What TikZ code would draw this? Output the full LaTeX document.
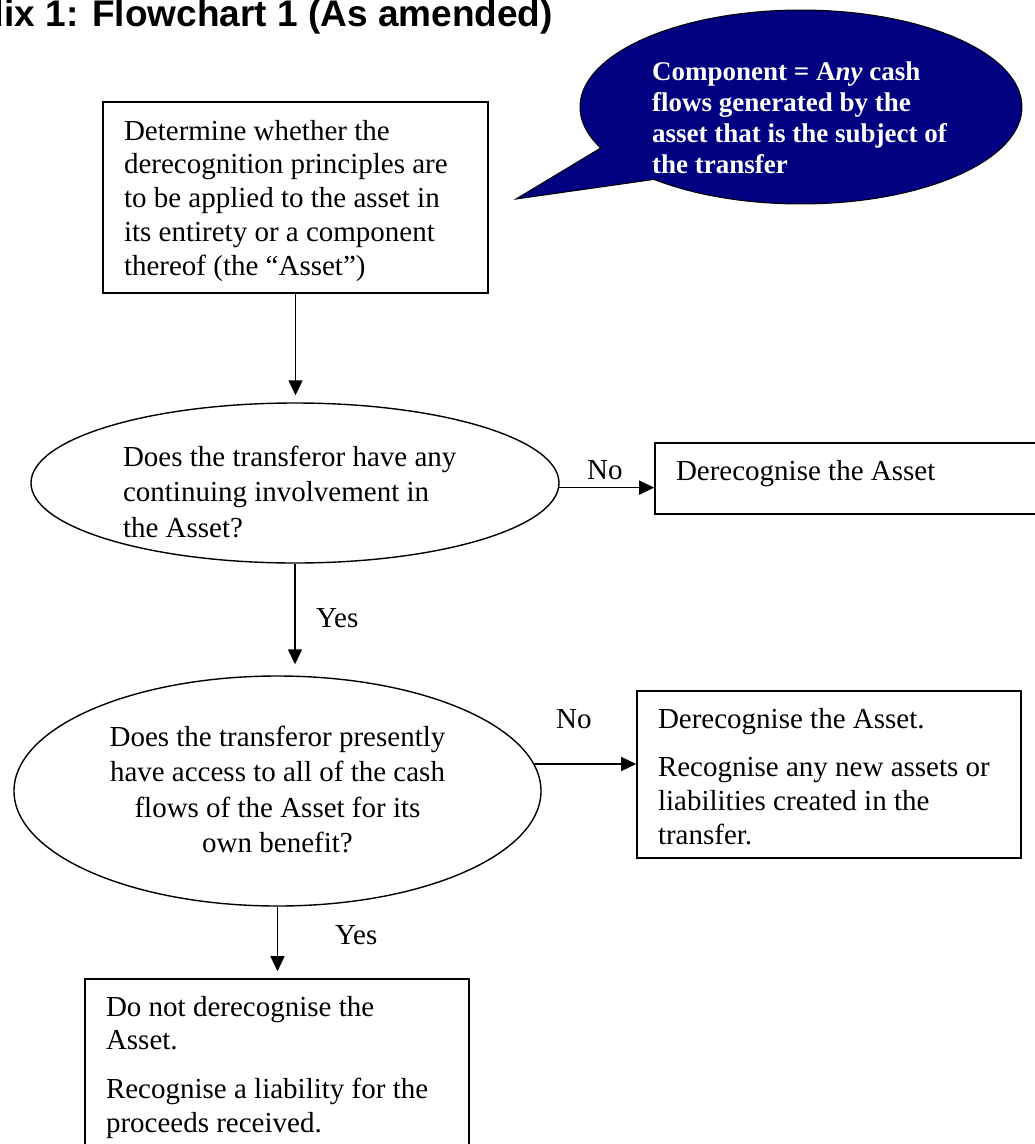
\documentclass[tikz,border=0pt]{standalone}
\usepackage{fontspec}
\setmainfont{Liberation Serif}
\setsansfont{Liberation Sans}
\usetikzlibrary{shapes.geometric,arrows.meta}
\definecolor{navy}{RGB}{0,0,128}
\newcommand\bodyfont{\fontsize{29}{33.75}\selectfont}
\newcommand\ellfont{\fontsize{29}{35.5}\selectfont}
\newcommand\tx[4]{\smash{\raisebox{#1}{\parbox[t]{#2}{#3#4}}}}
\begin{document}
\begin{tikzpicture}[x=1pt,y=-1pt,
  box/.style={draw, line width=1.6pt, rectangle, inner sep=0pt, font=\bodyfont},
  oval/.style={draw, line width=1.4pt, ellipse, inner sep=0pt, font=\ellfont},
  arr/.style={line width=1.4pt, -{Triangle[length=15pt,width=14pt]}},
  lbl/.style={font=\bodyfont, inner sep=0pt, anchor=base west},
  callout/.style={draw=black, line width=1pt, fill=navy},
]
\useasboundingbox (0,0) rectangle (1035,1144);
\clip (0,0) rectangle (1035,1144);
\fill[white] (0,0) rectangle (1035,1144);

% title (cut off at the top)
\node[font=\sffamily\bfseries\fontsize{37}{40}\selectfont, anchor=base east, inner sep=0pt] (title) at (553,26) {Appendix 1: Flowchart 1 (As amended)};

% callout
\coordinate (cc) at (801,107);
\coordinate (tip) at (516,199);
\draw[callout] ([shift={(228.3:221pt and 97pt)}]cc) arc[start angle=228.3, end angle=565, x radius=221pt, y radius=97pt] -- (tip) -- cycle;
\node[anchor=base west, inner sep=0pt, text=white, font=\bfseries\fontsize{27}{31}\selectfont] (calltext) at (652,80)
  {\parbox[t]{340pt}{\raggedright Component = A\textit{ny} cash\\ flows generated by the\\ asset that is the subject of\\ the transfer}};

% boxes
\node[box, minimum width=385pt, minimum height=191pt] (b1) at (295.5,197.5)
  {\tx{57.5pt}{343pt}{\raggedright}{Determine whether the\\ derecognition principles are\\ to be applied to the asset in\\ its entirety or a component\\ thereof (the “Asset”)}};
\node[box, minimum width=385pt, minimum height=71pt] (b2) at (847.5,478.5)
  {\tx{-1.5pt}{343pt}{\raggedright}{Derecognise the Asset}};
\node[box, minimum width=384pt, minimum height=167pt] (b3) at (829,774.5)
  {\tx{46.5pt}{342pt}{\raggedright}{Derecognise the Asset.\\[15pt] Recognise any new assets or\\ liabilities created in the\\ transfer.}};
\node[box, minimum width=384pt, minimum height=185pt] (b4) at (277,1071.5)
  {\tx{55.5pt}{342pt}{\raggedright}{Do not derecognise the\\ Asset.\\[15pt] Recognise a liability for the\\ proceeds received.}};

% decisions
\node[oval, minimum width=528pt, minimum height=160pt] (e1) at (295,483)
  {\tx{17pt}{344pt}{\raggedright}{Does the transferor have any\\ continuing involvement in\\ the Asset?}};
\node[oval, minimum width=527pt, minimum height=230pt] (e2) at (277.5,791)
  {\tx{45pt}{360pt}{\centering}{Does the transferor presently\\ have access to all of the cash\\ flows of the Asset for its\\ own benefit?}};

% connectors
\draw[arr, shorten >=7pt] (b1.south) -- (b1.south |- e1.north);
\draw[arr] (e1.-1.74) -- (e1.-1.74 -| b2.west);
\draw[arr, shorten >=11pt] (e1.south) -- (e1.south |- e2.north);
\draw[arr] (e2.6.25) -- (e2.6.25 -| b3.west);
\draw[arr, shorten >=7pt] (e2.south) -- (e2.south |- b4.north);

% labels
\node[lbl] (no1) at (587,479) {No};
\node[lbl] (yes1) at (316,627) {Yes};
\node[lbl] (no2) at (556,728) {No};
\node[lbl] (yes2) at (335,944) {Yes};
\end{tikzpicture}
\end{document}
